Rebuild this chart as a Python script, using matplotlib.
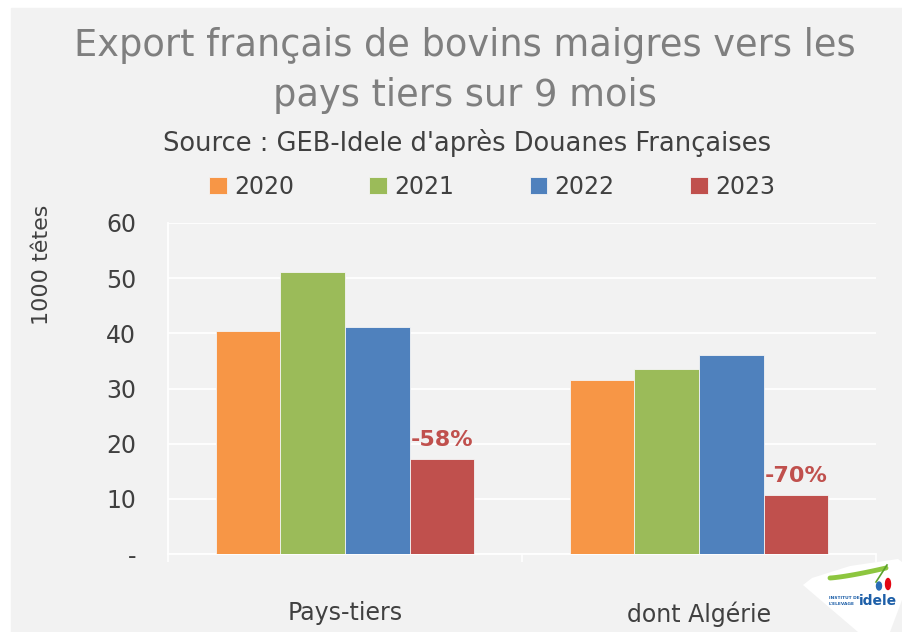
import matplotlib
matplotlib.use("Agg")
import matplotlib.pyplot as plt
import matplotlib.patches as patches
import numpy as np

# Données (milliers de têtes, 9 mois)
categories = ["Pays-tiers", "dont Algérie"]
years = ["2020", "2021", "2022", "2023"]
v2020 = [40.4, 31.5]
v2021 = [51.2, 33.5]
v2022 = [41.2, 36.0]
v2023 = [17.3, 10.7]
evolution = ["-58%", "-70%"]
yticks = [0, 10, 20, 30, 40, 50, 60]
ytick_labels = ["-", "10", "20", "30", "40", "50", "60"]

colors = ["#f79646", "#9bbb59", "#4f81bd", "#c0504d"]
bg = "#f2f2f2"
dark = "#404040"

W, H = 902, 632


def px(x, y):
    """pixels (origine en haut à gauche) -> fraction de figure"""
    return x / W, 1 - y / H


fig = plt.figure(figsize=(W / 100, H / 100), dpi=100, facecolor="white")
fig.patches.append(patches.Rectangle((11 / W, 0), 1 - 11 / W, 1 - 8 / H,
                                     transform=fig.transFigure, color=bg, zorder=-10))

x0, y0 = px(168, 554)
x1, y1 = px(876, 223)
ax = fig.add_axes([x0, y0, x1 - x0, y1 - y0])
ax.set_facecolor("none")

x = np.arange(len(categories))
width = 0.1825
series = [v2020, v2021, v2022, v2023]
for i, (vals, c, lab) in enumerate(zip(series, colors, years)):
    ax.bar(x + (i - 1.5) * width, vals, width, color=c, edgecolor="#f4f4f4",
           linewidth=0.6, label=lab, zorder=3)

# étiquettes d'évolution au-dessus de 2023
for xi, v, txt in zip(x, v2023, evolution):
    ax.text(xi + 1.5 * width, v + 1.6, txt, ha="center", va="bottom",
            fontsize=16, fontweight="bold", color="#c0504d", zorder=4)

ax.set_xlim(-0.5, 1.5)
ax.set_ylim(0, 60)
ax.set_yticks(yticks)
ax.set_yticklabels(ytick_labels)
ax.grid(axis="y", color="white", linewidth=1.3, zorder=0)
ax.tick_params(axis="y", length=0, pad=23, labelsize=17, labelcolor=dark)
ax.get_yticklabels()[0].set_y(-0.3)

ax.set_xticks([-0.5, 0.5, 1.5])
ax.set_xticklabels([])
ax.tick_params(axis="x", which="major", length=6, width=1.2, color="white", direction="out")
ax.set_xticks(x, minor=True)
ax.set_xticklabels(categories, minor=True)
ax.tick_params(axis="x", which="minor", length=0, pad=34, labelsize=17, labelcolor=dark)

for s in ["top", "right"]:
    ax.spines[s].set_visible(False)
ax.spines["left"].set_color("white")
ax.spines["left"].set_linewidth(1.3)
ax.spines["bottom"].set_color("white")
ax.spines["bottom"].set_linewidth(1.3)
ax.set_axisbelow(True)

# titres
fig.text(*px(465, 46), "Export français de bovins maigres vers les", ha="center", va="center",
         fontsize=26.5, color="#7f7f7f")
fig.text(*px(465, 96), "pays tiers sur 9 mois", ha="center", va="center",
         fontsize=26.5, color="#7f7f7f")
fig.text(*px(467, 143), "Source : GEB-Idele d'après Douanes Françaises", ha="center", va="center",
         fontsize=18.5, color=dark)
fig.text(*px(42, 265), "1000 têtes", rotation=90, ha="center", va="center",
         fontsize=16, color=dark)

fig.legend(loc="center", bbox_to_anchor=px(492, 187), ncol=4, frameon=False,
           fontsize=17, handlelength=0.75, handleheight=0.75, handletextpad=0.3,
           columnspacing=3.2, labelcolor=dark)

# logo (approximation)
logo = patches.Polygon([px(803, 585), px(812, 578), px(850, 566), px(898, 559), px(902, 562),
                        px(902, 600), px(890, 632), px(858, 632)], closed=True,
                       transform=fig.transFigure, facecolor="white", edgecolor="none", zorder=5)
fig.patches.append(logo)
t = np.linspace(0, 1, 30)
sx = 830 + 56 * t
sy = 578 - 10 * t ** 1.3
fig.lines.append(plt.Line2D(sx / W, 1 - sy / H, transform=fig.transFigure,
                            color="#8dc63f", linewidth=3.5, solid_capstyle="round", zorder=6))
fig.lines.append(plt.Line2D([876 / W, 887 / W], [1 - 582 / H, 1 - 565 / H], transform=fig.transFigure,
                            color="#5aa02c", linewidth=1.2, zorder=6))
fig.patches.append(patches.Ellipse(px(879, 586), 5 / W, 8 / H, transform=fig.transFigure,
                                   color="#2a6db5", zorder=6))
fig.patches.append(patches.Ellipse(px(888, 584), 5 / W, 11 / H, transform=fig.transFigure,
                                   color="#e30613", zorder=6))
fig.text(*px(829, 598), "INSTITUT DE", fontsize=3.2, fontweight="bold", color="#1d5fa8",
         ha="left", va="center", zorder=7)
fig.text(*px(829, 604), "L'ELEVAGE", fontsize=3.2, fontweight="bold", color="#1d5fa8",
         ha="left", va="center", zorder=7)
fig.text(*px(859, 601), "idele", fontsize=10, fontweight="bold", color="#1d5fa8",
         ha="left", va="center", zorder=7)

fig.savefig("out.png", dpi=100, facecolor=fig.get_facecolor())
